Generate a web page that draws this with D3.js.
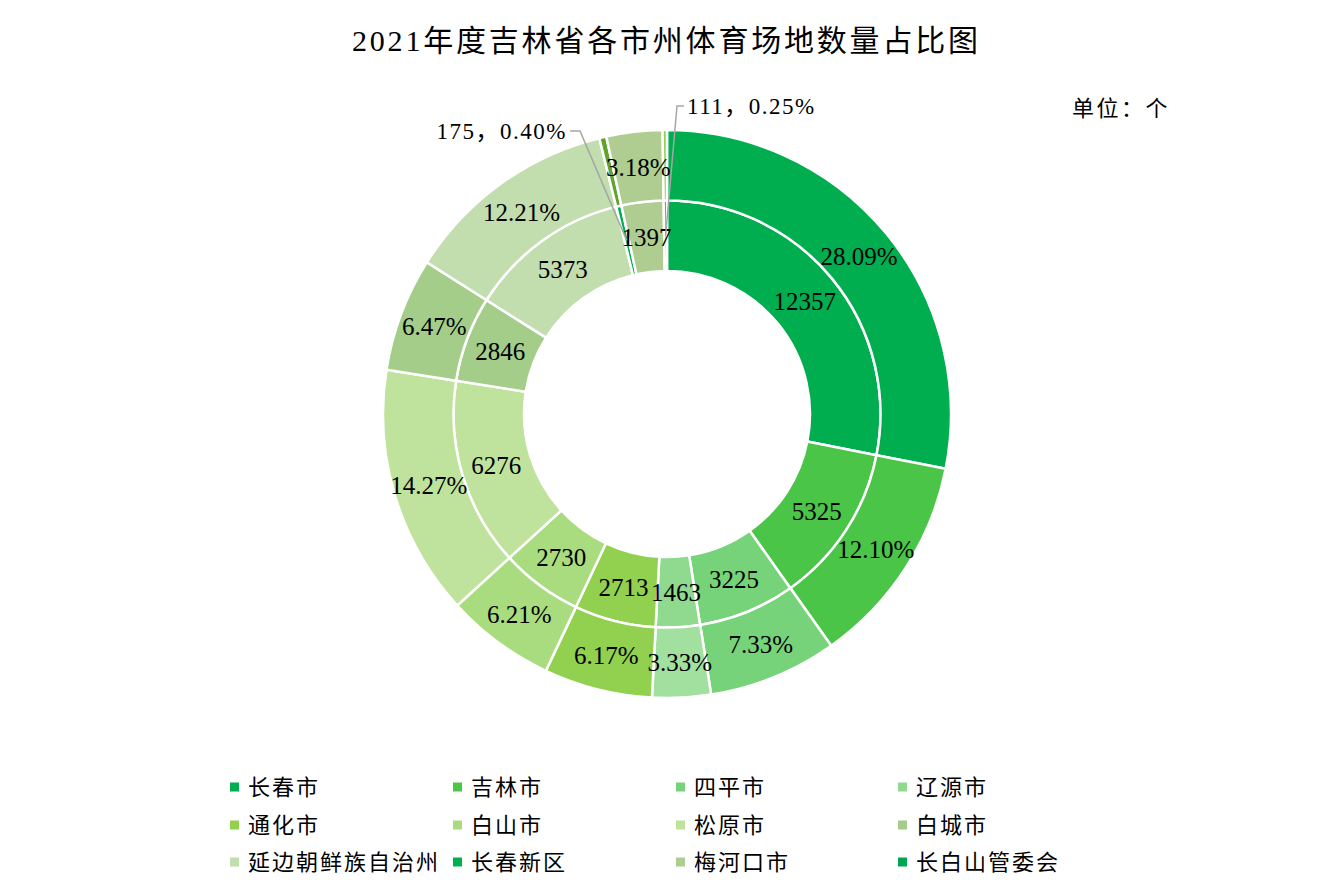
<!DOCTYPE html>
<html>
<head>
<meta charset="utf-8">
<script src="https://cdn.jsdelivr.net/npm/d3@7"></script>
<style>
  html, body { margin: 0; padding: 0; background: #fff; }
  svg { display: block; }
  text { font-family: "Liberation Serif", "Noto Sans CJK SC", serif; fill: #000; }
</style>
</head>
<body>
<svg id="chart" width="1333" height="889"></svg>
<script>
// 2021 sports venue counts by city/prefecture of Jilin Province
const categories = ["长春市", "吉林市", "四平市", "辽源市", "通化市", "白山市",
  "松原市", "白城市", "延边朝鲜族自治州", "长春新区", "梅河口市", "长白山管委会"];
const counts = [12357, 5325, 3225, 1463, 2713, 2730, 6276, 2846, 5373, 175, 1397, 111];
const percents = [28.09, 12.10, 7.33, 3.33, 6.17, 6.21, 14.27, 6.47, 12.21, 0.40, 3.18, 0.25];

const innerColors = ["#00ae4f", "#4ac548", "#77d379", "#8fda8f", "#92d050", "#a9dc7e",
  "#bfe39c", "#a3cd88", "#c2ddae", "#00b050", "#afcd90", "#00a650"];
const outerColors = ["#00ae4f", "#4ac548", "#77d379", "#a2e09f", "#92d050", "#a9dc7e",
  "#bfe39c", "#a3cd88", "#c2ddae", "#5fa42c", "#afcd90", "#92d050"];

const title = "2021年度吉林省各市州体育场地数量占比图";
const unitLabel = "单位：个";

const svg = d3.select("#chart");
const cx = 667, cy = 414;
const rHole = 143, rMid = 213.5, rOuter = 284;

svg.append("text")
  .attr("x", 352).attr("y", 51)
  .attr("font-size", 30)
  .attr("textLength", 626)
  .attr("lengthAdjust", "spacing")
  .text(title);

svg.append("text")
  .attr("x", 1072).attr("y", 116)
  .attr("font-size", 22)
  .attr("letter-spacing", 2.5)
  .text(unitLabel);

const pie = d3.pie().sort(null).value(d => d);
const innerArcs = pie(counts);
const outerArcs = pie(percents);

const innerArc = d3.arc().innerRadius(rHole).outerRadius(rMid);
const outerArc = d3.arc().innerRadius(rMid).outerRadius(rOuter);

const g = svg.append("g").attr("transform", `translate(${cx},${cy})`);

g.selectAll("path.inner").data(innerArcs).join("path")
  .attr("class", "inner")
  .attr("d", innerArc)
  .attr("fill", (d, i) => innerColors[i])
  .attr("stroke", "#fff").attr("stroke-width", 2.5);

g.selectAll("path.outer").data(outerArcs).join("path")
  .attr("class", "outer")
  .attr("d", outerArc)
  .attr("fill", (d, i) => outerColors[i])
  .attr("stroke", "#fff").attr("stroke-width", 2.5);

const labelSize = 25;
const small = i => percents[i] < 1;

// in-ring labels: counts on the inner ring, shares on the outer ring
g.selectAll("text.val").data(innerArcs.filter((d, i) => !small(i))).join("text")
  .attr("class", "val")
  .attr("transform", d => `translate(${innerArc.centroid(d)})`)
  .attr("text-anchor", "middle")
  .attr("dy", "0.35em")
  .attr("font-size", labelSize)
  .text(d => d.data);

g.selectAll("text.pct").data(outerArcs.filter((d, i) => !small(i))).join("text")
  .attr("class", "pct")
  .attr("transform", d => `translate(${outerArc.centroid(d)})`)
  .attr("text-anchor", "middle")
  .attr("dy", "0.35em")
  .attr("font-size", labelSize)
  .text(d => d.data.toFixed(2) + "%");

// callouts for the thin slices (label anchor relative to chart centre)
const calloutPos = {
  "长春新区": { x: -100, y: -283, side: "left" },
  "长白山管委会": { x: 18, y: -308, side: "right" }
};
categories.forEach((name, i) => {
  if (!small(i)) return;
  const pos = calloutPos[name];
  const [px, py] = innerArc.centroid(innerArcs[i]);
  const elbowX = pos.side === "left" ? pos.x + 13 : pos.x - 8;
  const startX = pos.side === "left" ? pos.x + 3 : pos.x - 1;
  g.append("path")
    .attr("d", `M${startX},${pos.y}L${elbowX},${pos.y}L${px},${py}`)
    .attr("fill", "none")
    .attr("stroke", "#a6a6a6").attr("stroke-width", 1.5);
  g.append("text")
    .attr("x", pos.side === "left" ? pos.x : pos.x + 2)
    .attr("y", pos.y)
    .attr("dy", "0.35em")
    .attr("text-anchor", pos.side === "left" ? "end" : "start")
    .attr("font-size", 23)
    .attr("letter-spacing", 1.5)
    .text(`${counts[i]}，${percents[i].toFixed(2)}%`);
});

// legend: 4 columns x 3 rows
const legend = svg.append("g");
const colX = [230, 453, 676, 898];
const rowY = [787, 825, 862];
categories.forEach((name, i) => {
  const x = colX[i % 4], y = rowY[Math.floor(i / 4)];
  legend.append("rect")
    .attr("x", x).attr("y", y - 4.5)
    .attr("width", 9).attr("height", 9)
    .attr("fill", innerColors[i]);
  legend.append("text")
    .attr("x", x + 18).attr("y", y)
    .attr("dy", "0.36em")
    .attr("font-size", 22)
    .attr("letter-spacing", 2)
    .text(name);
});
</script>
</body>
</html>
